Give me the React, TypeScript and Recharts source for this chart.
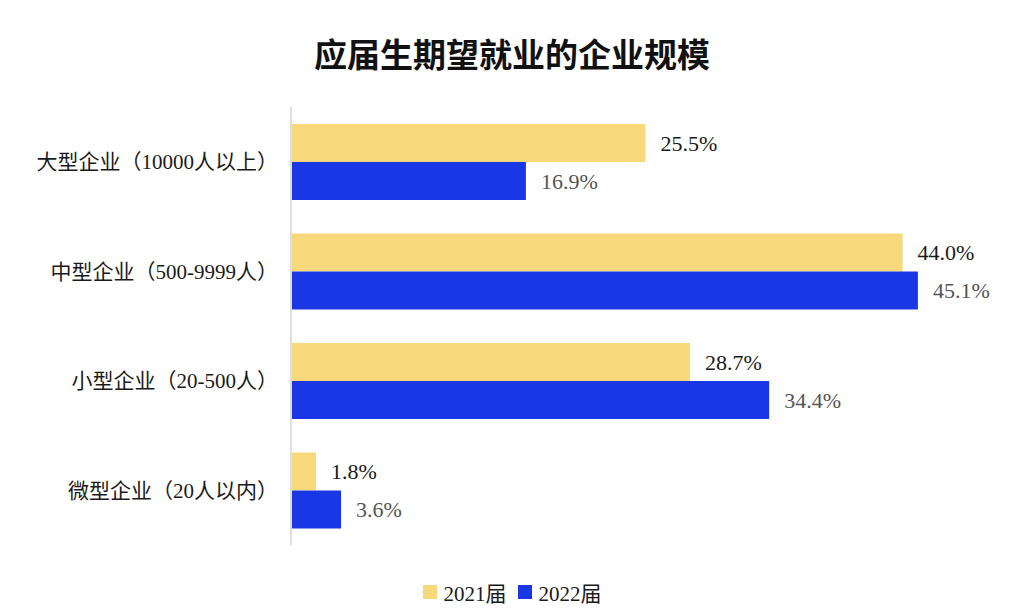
import React from 'react';
import { BarChart, Bar, XAxis, YAxis, LabelList, Legend } from 'recharts';

const categories = ['大型企业（10000人以上）', '中型企业（500-9999人）', '小型企业（20-500人）', '微型企业（20人以内）'];
const values2021 = [25.5, 44.0, 28.7, 1.8];
const values2022 = [16.9, 45.1, 34.4, 3.6];
const seriesNames = ['2021届', '2022届'];
const title = '应届生期望就业的企业规模';

const COLORS = ['#F7D97B', '#1A37E6'];
const LABEL_COLORS = ['#1a1a1a', '#555555'];
const SERIF = '"Liberation Serif", "Times New Roman", "Noto Sans CJK SC", serif';

const data = categories.map((name, i) => ({ name, s2021: values2021[i], s2022: values2022[i] }));

const fmt = (v: any) => `${Number(v).toFixed(1)}%`;

const LegendContent = () => (
  <div style={{ display: 'flex', justifyContent: 'center', alignItems: 'center', height: 24, fontFamily: SERIF, fontSize: 21, color: '#1a1a1a' }}>
    {seriesNames.map((n, i) => (
      <div key={n} style={{ display: 'flex', alignItems: 'center', marginRight: i === 0 ? 11 : 0 }}>
        <span style={{ display: 'inline-block', width: 14, height: 14, background: COLORS[i], marginRight: 7 }} />
        <span>{n}</span>
      </div>
    ))}
  </div>
);

export default function App() {
  return (
    <div style={{ position: 'absolute', left: 0, top: 0, width: 1024, height: 611, background: '#fff' }}>
      <div style={{ position: 'absolute', left: 0, top: 35, width: 1024, textAlign: 'center', fontFamily: '"Noto Sans CJK SC", sans-serif', fontWeight: 700, fontSize: 33, lineHeight: '36px', color: '#111' }}>
        {title}
      </div>
      <BarChart
        width={1024}
        height={611}
        data={data}
        layout="vertical"
        margin={{ top: 107, right: 38, bottom: 42, left: 20 }}
        barGap={0}
      >
        <XAxis type="number" domain={[0, 50]} hide />
        <YAxis
          type="category"
          dataKey="name"
          width={271}
          axisLine={{ stroke: '#dedede', strokeWidth: 2 }}
          tickLine={false}
          tickMargin={7}
          tick={{ fontFamily: SERIF, fontSize: 21, fill: '#1a1a1a' }}
        />
        <Legend verticalAlign="bottom" content={<LegendContent />} wrapperStyle={{ bottom: 7, left: 0, width: 1024 }} />
        <Bar dataKey="s2021" name={seriesNames[0]} fill={COLORS[0]} barSize={38} isAnimationActive={false}>
          <LabelList dataKey="s2021" position="right" offset={15} formatter={fmt} style={{ fontFamily: SERIF, fontSize: 22, fill: LABEL_COLORS[0] }} />
        </Bar>
        <Bar dataKey="s2022" name={seriesNames[1]} fill={COLORS[1]} barSize={38} isAnimationActive={false}>
          <LabelList dataKey="s2022" position="right" offset={15} formatter={fmt} style={{ fontFamily: SERIF, fontSize: 22, fill: LABEL_COLORS[1] }} />
        </Bar>
      </BarChart>
    </div>
  );
}
